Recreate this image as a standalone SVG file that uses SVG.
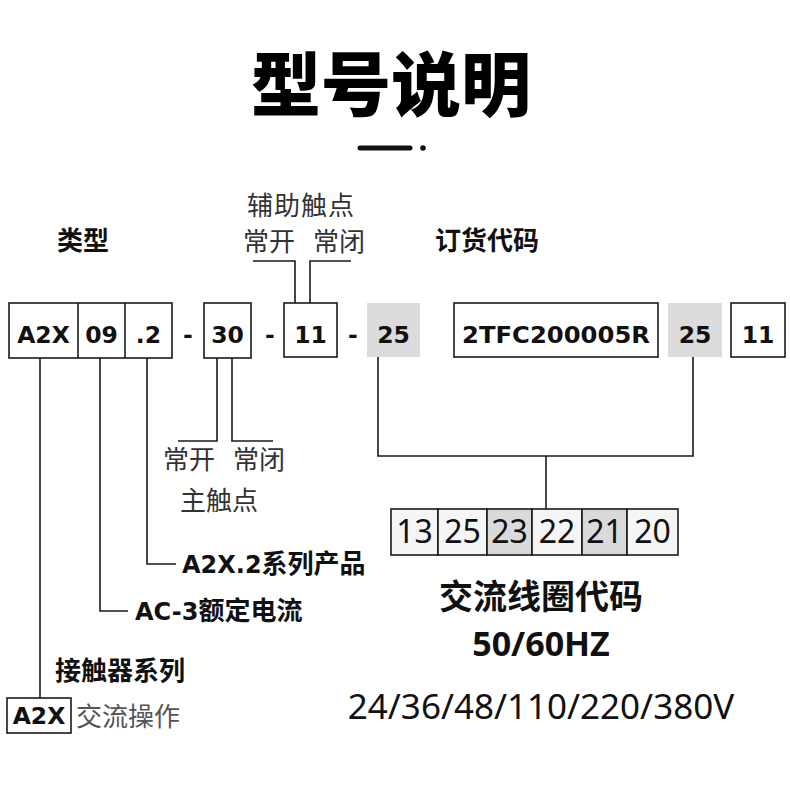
<svg xmlns="http://www.w3.org/2000/svg" width="790" height="792" viewBox="0 0 790 792">
<style>
.bx{fill:#fff;stroke:#1a1a1a;stroke-width:1.6}
.gb{fill:#dcdcdc;stroke:none}
.ln{fill:none;stroke:#1a1a1a;stroke-width:1.6}
.bt{font-family:"DejaVu Sans","Noto Sans CJK SC",sans-serif;font-weight:bold;font-size:23.5px;fill:#111;text-anchor:middle}
.cjkb{font-family:"Noto Sans CJK SC",sans-serif;font-weight:bold;font-size:26px;fill:#111}
.cjk{font-family:"Noto Sans CJK SC",sans-serif;font-weight:normal;font-size:26px;fill:#333}
.lat{font-family:"DejaVu Sans",sans-serif;font-weight:bold;font-size:24px;fill:#111}
.cl{fill:#f5f5f5;stroke:#1a1a1a;stroke-width:1.6}
.cd{fill:#dadada;stroke:#1a1a1a;stroke-width:1.6}
.ct{font-family:"Noto Sans","Noto Sans CJK SC",sans-serif;font-size:32px;fill:#111;text-anchor:middle}
</style>
<rect width="790" height="792" fill="#fff"/>
<g id="title">
<text x="391" y="111" font-family="Noto Sans CJK SC,sans-serif" font-weight="900" font-size="70" text-anchor="middle" fill="#000">型号说明</text>
<line x1="360" y1="148" x2="410" y2="148" stroke="#111" stroke-width="5" stroke-linecap="round"/>
<circle cx="423" cy="148" r="2.8" fill="#111"/>
</g>
<g id="labels-top">
<text class="cjkb" x="57" y="250">类型</text>
<text class="cjk" x="247" y="215" letter-spacing="1">辅助触点</text>
<text class="cjk" x="243" y="251">常开</text>
<text class="cjk" x="313" y="251">常闭</text>
<text class="cjkb" x="435" y="250">订货代码</text>
</g>
<g id="type-box">
<rect class="bx" x="9" y="303" width="163" height="55"/>
<line class="ln" x1="78" y1="303" x2="78" y2="358"/>
<line class="ln" x1="125" y1="303" x2="125" y2="358"/>
<text class="bt" x="43.5" y="343">A2X</text>
<text class="bt" x="101.5" y="343">09</text>
<text class="bt" x="148.5" y="343">.2</text>
</g>
<g id="dashes">
<text class="bt" x="188" y="343">-</text>
<text class="bt" x="270" y="343">-</text>
<text class="bt" x="353" y="343">-</text>
</g>
<g id="main-box">
<rect class="bx" x="204" y="303" width="47" height="55"/>
<text class="bt" x="227.5" y="343">30</text>
</g>
<g id="aux-box">
<rect class="bx" x="284" y="303" width="53" height="54"/>
<text class="bt" x="310.5" y="343">11</text>
</g>
<g id="coil-box1">
<rect class="gb" x="367" y="303" width="53" height="54"/>
<text class="bt" x="393.5" y="343">25</text>
</g>
<g id="order-box">
<rect class="bx" x="454" y="303" width="204" height="54"/>
<text class="bt" x="556" y="343" textLength="188" lengthAdjust="spacingAndGlyphs">2TFC200005R</text>
</g>
<g id="coil-box2">
<rect class="gb" x="668" y="303" width="54" height="54"/>
<text class="bt" x="695" y="343">25</text>
</g>
<g id="end-box">
<rect class="bx" x="731" y="303" width="54" height="54"/>
<text class="bt" x="758" y="343">11</text>
</g>
<g id="connectors">
<polyline class="ln" points="253,261 295,261 295,303"/>
<polyline class="ln" points="351,261 310,261 310,303"/>
<polyline class="ln" points="217,358 217,441 178,441"/>
<polyline class="ln" points="232,358 232,441 273,441"/>
<polyline class="ln" points="147,358 147,564 176,564"/>
<polyline class="ln" points="100,358 100,611 128,611"/>
<line class="ln" x1="40" y1="358" x2="40" y2="698"/>
<polyline class="ln" points="378,357 378,456 693,456 693,357"/>
<line class="ln" x1="546" y1="456" x2="546" y2="509"/>
</g>
<g id="labels-main">
<text class="cjk" x="163" y="469">常开</text>
<text class="cjk" x="233" y="469">常闭</text>
<text class="cjk" x="180" y="510">主触点</text>
</g>
<g id="label-series">
<text x="182" y="573"><tspan class="lat">A2X.2</tspan><tspan class="cjkb">系列产品</tspan></text>
</g>
<g id="label-current">
<text x="135" y="620"><tspan class="lat">AC-3</tspan><tspan class="cjkb">额定电流</tspan></text>
</g>
<g id="label-family">
<text class="cjkb" x="55" y="680">接触器系列</text>
</g>
<g id="a2x-legend">
<rect class="bx" x="7" y="698" width="64" height="35"/>
<text class="bt" x="39" y="724" font-size="22.5">A2X</text>
<text class="cjk" x="76" y="726" fill="#555" style="fill:#555">交流操作</text>
</g>
<g id="coil-codes">
<rect class="cl" x="391" y="509" width="47" height="46"/>
<rect class="cl" x="438" y="509" width="49" height="46"/>
<rect class="cd" x="487" y="509" width="45" height="46"/>
<rect class="cl" x="532" y="509" width="50" height="46"/>
<rect class="cd" x="582" y="509" width="45" height="46"/>
<rect class="cl" x="627" y="509" width="51" height="46"/>
<text class="ct" x="414.5" y="543">13</text>
<text class="ct" x="462.5" y="543">25</text>
<text class="ct" x="509.5" y="543">23</text>
<text class="ct" x="557" y="543">22</text>
<text class="ct" x="604.5" y="543">21</text>
<text class="ct" x="652.5" y="543">20</text>
</g>
<g id="coil-text">
<text x="541" y="609" font-family="Noto Sans CJK SC,sans-serif" font-weight="bold" font-size="34" text-anchor="middle" fill="#111">交流线圈代码</text>
<text x="541" y="656" font-family="Noto Sans,sans-serif" font-weight="bold" font-size="34" text-anchor="middle" fill="#111">50/60HZ</text>
<text x="541" y="719" font-family="Noto Sans,sans-serif" font-size="35" text-anchor="middle" fill="#111">24/36/48/110/220/380V</text>
</g>
</svg>
